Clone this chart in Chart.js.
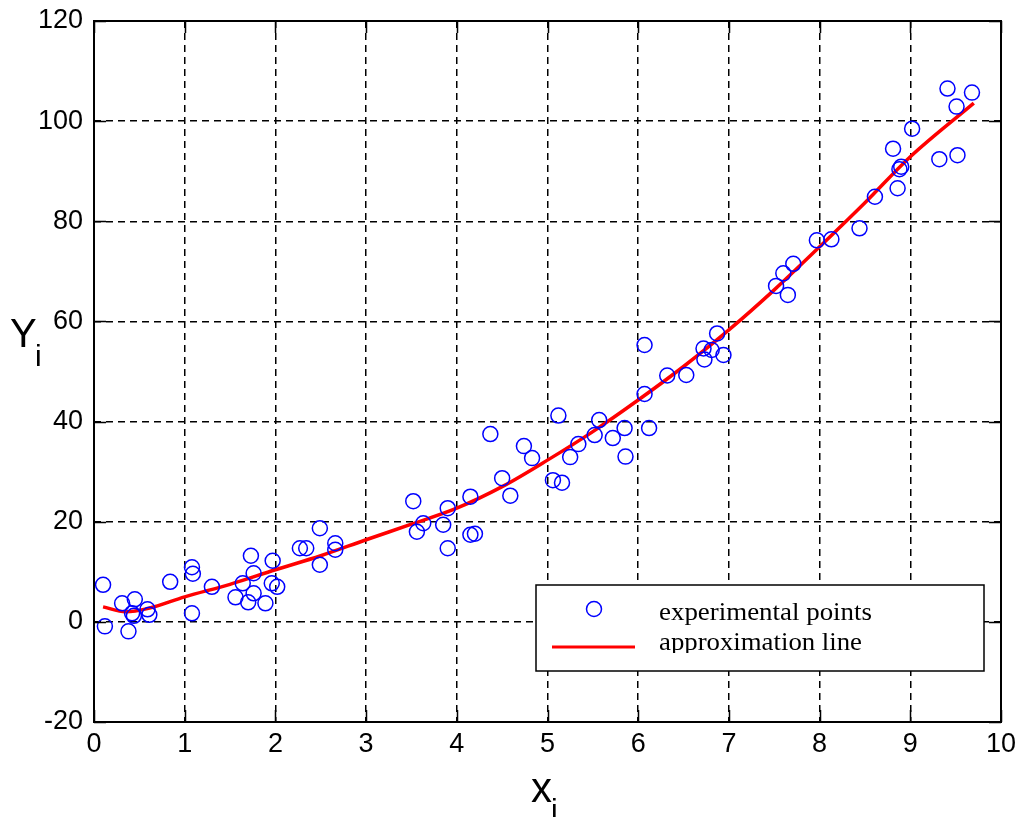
<!DOCTYPE html>
<html>
<head>
<meta charset="utf-8">
<script src="https://cdn.jsdelivr.net/npm/chart.js@4.4.1/dist/chart.umd.min.js"></script>
<style>
  body { margin: 0; background: #fff; }
  canvas { display: block; }
</style>
</head>
<body>
<canvas id="fitChart" width="1019" height="817"></canvas>
<script>
// experimental points
const expX = [0.10, 0.12, 0.31, 0.38, 0.45, 0.42, 0.44, 0.59, 0.61, 0.84,
              1.08, 1.09, 1.08, 1.30, 1.56, 1.64, 1.70, 1.73, 1.76, 1.76,
              1.89, 1.96, 1.97, 2.02, 2.27, 2.34, 2.49, 2.49, 2.66, 2.66,
              3.52, 3.56, 3.63, 3.85, 3.90, 3.90, 4.15, 4.15, 4.20, 4.37,
              4.50, 4.59, 4.74, 4.83, 5.06, 5.16, 5.12, 5.25, 5.34, 5.52,
              5.57, 5.72, 5.85, 5.86, 6.07, 6.07, 6.12, 6.32, 6.53, 6.72,
              6.73, 6.81, 6.87, 6.94, 7.52, 7.60, 7.71, 7.65, 7.97, 8.13,
              8.44, 8.61, 8.86, 8.81, 8.90, 8.88, 9.02, 9.32, 9.52, 9.41,
              9.51, 9.68];
const expY = [7.4, -0.9, 3.7, -1.9, 4.5, 1.7, 1.2, 2.5, 1.4, 8.0,
              10.9, 9.6, 1.7, 7.0, 4.9, 7.7, 3.9, 13.2, 9.7, 5.7,
              3.7, 7.7, 12.2, 7.0, 14.7, 14.7, 18.7, 11.4, 15.7, 14.4,
              24.1, 18.0, 19.7, 19.4, 22.7, 14.7, 25.0, 17.4, 17.6, 37.5,
              28.7, 25.2, 35.1, 32.7, 28.3, 27.8, 41.2, 32.9, 35.5, 37.3,
              40.3, 36.7, 38.7, 33.0, 55.3, 45.5, 38.7, 49.2, 49.3, 54.6,
              52.4, 54.3, 57.6, 53.3, 67.1, 69.6, 71.5, 65.3, 76.2, 76.4,
              78.6, 84.9, 86.6, 94.5, 90.9, 90.4, 98.5, 92.4, 93.2, 106.5,
              102.9, 105.7];

// approximation line, read at these x positions
const lineX = [0.1, 0.35, 0.6, 1, 1.5, 2, 2.5, 3, 3.5, 4, 4.5, 5, 5.5, 6, 6.5, 7, 7.5, 8, 8.5, 9, 9.7];
const lineY = [3.0, 2.0, 2.7, 5.0, 7.5, 10.4, 13.2, 16.4, 19.5, 22.7, 27.0, 32.3, 38.0, 44.3, 51.0, 58.3, 66.3, 74.9, 83.7, 92.9, 103.6];

const xMin = 0, xMax = 10, xStep = 1;
const yMin = -20, yMax = 120, yStep = 20;

const legendLabels = ['experimental points', 'approximation line'];
const xTitle = 'x', yTitle = 'Y', titleSub = 'i';

const tickFont = { family: '"Liberation Sans Narrow", "Liberation Sans", Arial, sans-serif', size: 27 };

// frame, inward ticks, axis titles and the boxed legend
const decorPlugin = {
    id: 'decor',
    afterDraw(chart) {
        const ctx = chart.ctx;
        const area = chart.chartArea;
        const xs = chart.scales.x;
        const ys = chart.scales.y;
        const tickLen = 12;

        ctx.save();
        ctx.strokeStyle = '#000';
        ctx.lineWidth = 1.5;
        ctx.beginPath();
        xs.ticks.forEach(t => {
            const px = Math.round(xs.getPixelForValue(t.value)) + 0.5;
            ctx.moveTo(px, area.bottom); ctx.lineTo(px, area.bottom - tickLen);
            ctx.moveTo(px, area.top); ctx.lineTo(px, area.top + tickLen);
        });
        ys.ticks.forEach(t => {
            const py = Math.round(ys.getPixelForValue(t.value)) + 0.5;
            ctx.moveTo(area.left, py); ctx.lineTo(area.left + tickLen, py);
            ctx.moveTo(area.right, py); ctx.lineTo(area.right - tickLen, py);
        });
        ctx.stroke();
        ctx.lineWidth = 2;
        ctx.strokeRect(area.left, area.top, area.right - area.left, area.bottom - area.top);

        // axis titles with subscript i
        ctx.fillStyle = '#000';
        ctx.textAlign = 'left';
        ctx.textBaseline = 'alphabetic';
        const fam = tickFont.family;
        ctx.font = '40px ' + fam;
        ctx.fillText(yTitle, 10, 347);
        ctx.font = '30px ' + fam;
        ctx.fillText(titleSub, 35, 366);
        ctx.font = '42px ' + fam;
        ctx.fillText(xTitle, 531, 802);
        ctx.font = '30px ' + fam;
        ctx.fillText(titleSub, 551, 820);

        // legend box
        const lx = 536, ly = 585, lw = 448, lh = 86;
        ctx.fillStyle = '#fff';
        ctx.fillRect(lx, ly, lw, lh);
        ctx.lineWidth = 1.5;
        ctx.strokeStyle = '#000';
        ctx.strokeRect(lx, ly, lw, lh);

        ctx.strokeStyle = '#0000ff';
        ctx.lineWidth = 1.5;
        ctx.beginPath();
        ctx.arc(594, 609, 7.5, 0, Math.PI * 2);
        ctx.stroke();

        ctx.strokeStyle = '#ff0000';
        ctx.lineWidth = 3;
        ctx.beginPath();
        ctx.moveTo(552, 647);
        ctx.lineTo(635, 647);
        ctx.stroke();

        ctx.beginPath();
        ctx.rect(lx + 2, ly + 2, lw - 4, 653 - ly - 2);
        ctx.clip();
        ctx.fillStyle = '#000';
        ctx.font = '26px "Liberation Serif", "Times New Roman", serif';
        const targets = [213, 203];
        const bases = [620, 650];
        legendLabels.forEach((txt, i) => {
            const w = ctx.measureText(txt).width;
            ctx.save();
            ctx.translate(659, bases[i]);
            ctx.scale(targets[i] / w, 1);
            ctx.fillText(txt, 0, 0);
            ctx.restore();
        });
        ctx.restore();
    }
};

const ctx = document.getElementById('fitChart');
const chart = new Chart(ctx, {
    type: 'scatter',
    data: {
        datasets: [
            {
                label: legendLabels[1],
                type: 'line',
                data: lineX.map((x, i) => ({ x: x, y: lineY[i] })),
                borderColor: '#ff0000',
                borderWidth: 3.5,
                pointRadius: 0,
                fill: false,
                cubicInterpolationMode: 'monotone',
                order: 2
            },
            {
                label: legendLabels[0],
                data: expX.map((x, i) => ({ x: x, y: expY[i] })),
                pointStyle: 'circle',
                pointRadius: 7.5,
                pointBorderWidth: 1.5,
                borderColor: '#0000ff',
                backgroundColor: 'rgba(0,0,0,0)',
                order: 1
            }
        ]
    },
    options: {
        responsive: false,
        animation: false,
        devicePixelRatio: 1,
        layout: { padding: { left: 0, top: 21, right: 18, bottom: 0 } },
        plugins: {
            legend: { display: false },
            tooltip: { enabled: false }
        },
        scales: {
            x: {
                type: 'linear',
                min: xMin, max: xMax,
                ticks: { stepSize: xStep, color: '#000', font: tickFont, padding: 6, maxRotation: 0 },
                grid: { color: '#000', lineWidth: 1.5, drawTicks: false },
                border: { display: false, dash: [7, 5] },
                afterFit(scale) {
                    scale.height = 95;
                    scale.paddingLeft = 0;
                    scale.paddingRight = 0;
                }
            },
            y: {
                type: 'linear',
                min: yMin, max: yMax,
                ticks: { stepSize: yStep, color: '#000', font: tickFont, padding: 11 },
                grid: { color: '#000', lineWidth: 1.5, drawTicks: false },
                border: { display: false, dash: [7, 5] },
                afterFit(scale) {
                    scale.width = 94;
                    scale.paddingTop = 0;
                    scale.paddingBottom = 0;
                }
            }
        }
    },
    plugins: [decorPlugin]
});
</script>
</body>
</html>
